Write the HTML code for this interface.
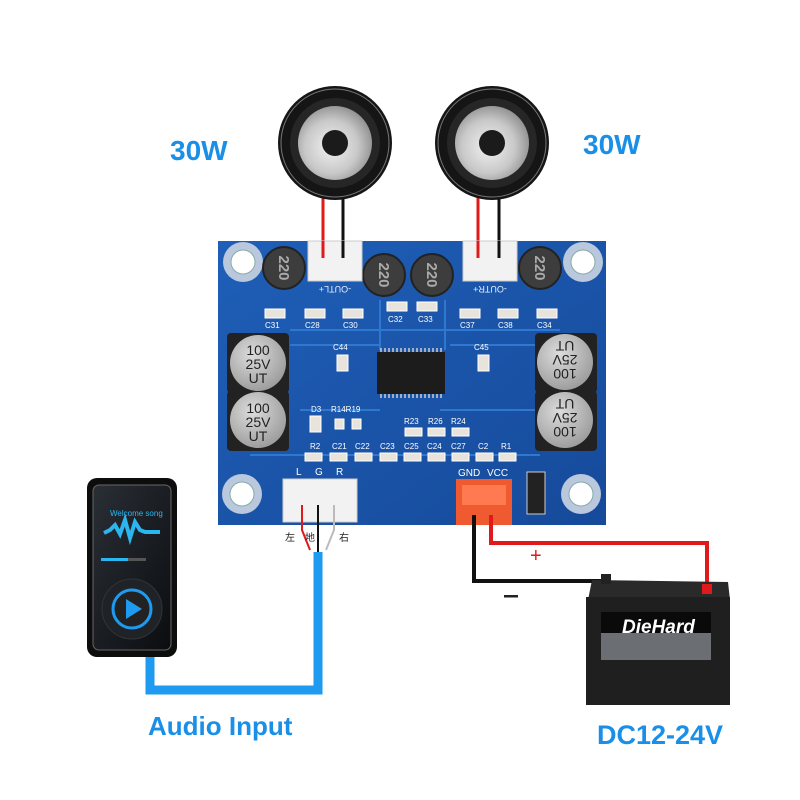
<!DOCTYPE html>
<html><head><meta charset="utf-8"><style>
html,body{margin:0;padding:0;background:#fff;}
svg{display:block;}
</style></head><body>
<svg width="800" height="800" viewBox="0 0 800 800" xmlns="http://www.w3.org/2000/svg" font-family="Liberation Sans, sans-serif">
<defs>
<radialGradient id="cone" cx="0.45" cy="0.55" r="0.6"><stop offset="0" stop-color="#f2f2f2"/><stop offset="0.6" stop-color="#c8c8c8"/><stop offset="1" stop-color="#8a8a8a"/></radialGradient>
<radialGradient id="cap" cx="0.4" cy="0.35" r="0.7"><stop offset="0" stop-color="#dcdcdc"/><stop offset="1" stop-color="#9a9a9a"/></radialGradient>
<linearGradient id="pcb" x1="0" y1="0" x2="1" y2="1"><stop offset="0" stop-color="#1f5fb8"/><stop offset="1" stop-color="#164a9a"/></linearGradient>
<linearGradient id="scr" x1="0" y1="0" x2="1" y2="1"><stop offset="0" stop-color="#2a2f36"/><stop offset="1" stop-color="#0b0d10"/></linearGradient>
</defs>

<!-- 30W labels -->
<text x="170" y="160" font-size="28" font-weight="bold" fill="#1a8fe8">30W</text>
<text x="583" y="154" font-size="28" font-weight="bold" fill="#1a8fe8">30W</text>

<!-- speaker wires -->
<line x1="323" y1="195" x2="323" y2="255" stroke="#e01a1a" stroke-width="3"/>
<line x1="343" y1="195" x2="343" y2="255" stroke="#111" stroke-width="3"/>
<line x1="478" y1="195" x2="478" y2="255" stroke="#e01a1a" stroke-width="3"/>
<line x1="499" y1="195" x2="499" y2="255" stroke="#111" stroke-width="3"/>

<!-- speakers -->
<g>
<circle cx="335" cy="143" r="57" fill="#151515"/>
<circle cx="335" cy="143" r="54" fill="none" stroke="#777" stroke-width="1"/>
<circle cx="335" cy="143" r="45" fill="#262626"/>
<circle cx="335" cy="143" r="37" fill="url(#cone)"/>
<circle cx="335" cy="143" r="13" fill="#1b1b1b"/>
</g>
<g>
<circle cx="492" cy="143" r="57" fill="#151515"/>
<circle cx="492" cy="143" r="54" fill="none" stroke="#777" stroke-width="1"/>
<circle cx="492" cy="143" r="45" fill="#262626"/>
<circle cx="492" cy="143" r="37" fill="url(#cone)"/>
<circle cx="492" cy="143" r="13" fill="#1b1b1b"/>
</g>

<!-- PCB -->
<rect x="218" y="241" width="388" height="284" fill="url(#pcb)"/>
<g fill="none" stroke="#2f78d0" stroke-width="2">
<path d="M290 330 H560 M290 345 H380 M450 345 H545 M300 410 H380 M440 410 H540 M250 455 H540 M380 300 V350 M445 300 V350"/>
</g>
<!-- mounting holes -->
<g>
<circle cx="243" cy="262" r="20" fill="#b9c8dc"/><circle cx="243" cy="262" r="12" fill="#fff" stroke="#8aa" stroke-width="1"/>
<circle cx="583" cy="262" r="20" fill="#b9c8dc"/><circle cx="583" cy="262" r="12" fill="#fff" stroke="#8aa" stroke-width="1"/>
<circle cx="242" cy="494" r="20" fill="#b9c8dc"/><circle cx="242" cy="494" r="12" fill="#fff" stroke="#8aa" stroke-width="1"/>
<circle cx="581" cy="494" r="20" fill="#b9c8dc"/><circle cx="581" cy="494" r="12" fill="#fff" stroke="#8aa" stroke-width="1"/>
</g>
<!-- inductors -->
<g fill="#3d3d3d" stroke="#222" stroke-width="2">
<circle cx="284" cy="268" r="21"/><circle cx="384" cy="275" r="21"/><circle cx="432" cy="275" r="21"/><circle cx="540" cy="268" r="21"/>
</g>
<g font-size="15" fill="#aaa" font-weight="bold">
<text x="284" y="273" text-anchor="middle" transform="rotate(90 284 268)">220</text>
<text x="384" y="280" text-anchor="middle" transform="rotate(90 384 275)">220</text>
<text x="432" y="280" text-anchor="middle" transform="rotate(90 432 275)">220</text>
<text x="540" y="273" text-anchor="middle" transform="rotate(90 540 268)">220</text>
</g>
<!-- top connectors -->
<rect x="308" y="241" width="54" height="40" fill="#f2f2f2" stroke="#ccc"/>
<rect x="463" y="241" width="54" height="40" fill="#f2f2f2" stroke="#ccc"/>
<line x1="323" y1="241" x2="323" y2="258" stroke="#e01a1a" stroke-width="3"/>
<line x1="343" y1="241" x2="343" y2="258" stroke="#111" stroke-width="3"/>
<line x1="478" y1="241" x2="478" y2="258" stroke="#e01a1a" stroke-width="3"/>
<line x1="499" y1="241" x2="499" y2="258" stroke="#111" stroke-width="3"/>
<g font-size="9" fill="#e8eef8">
<text x="335" y="292" text-anchor="middle" transform="rotate(180 335 289)">-OUTL+</text>
<text x="490" y="292" text-anchor="middle" transform="rotate(180 490 289)">-OUTR+</text>
</g>
<!-- small smd -->
<g fill="#e8e4dc" stroke="#fff" stroke-width="1">
<rect x="265" y="309" width="20" height="9"/><rect x="305" y="309" width="20" height="9"/><rect x="343" y="309" width="20" height="9"/>
<rect x="387" y="302" width="20" height="9"/><rect x="417" y="302" width="20" height="9"/>
<rect x="460" y="309" width="20" height="9"/><rect x="498" y="309" width="20" height="9"/><rect x="537" y="309" width="20" height="9"/>
<rect x="337" y="355" width="11" height="16"/><rect x="478" y="355" width="11" height="16"/>
<rect x="310" y="416" width="11" height="16"/><rect x="335" y="419" width="9" height="10"/><rect x="352" y="419" width="9" height="10"/>
<rect x="405" y="428" width="17" height="8"/><rect x="428" y="428" width="17" height="8"/><rect x="452" y="428" width="17" height="8"/>
<rect x="305" y="453" width="17" height="8"/><rect x="330" y="453" width="17" height="8"/><rect x="355" y="453" width="17" height="8"/><rect x="380" y="453" width="17" height="8"/><rect x="404" y="453" width="17" height="8"/><rect x="428" y="453" width="17" height="8"/><rect x="452" y="453" width="17" height="8"/><rect x="476" y="453" width="17" height="8"/><rect x="499" y="453" width="17" height="8"/>
</g>
<g font-size="8" fill="#fff">
<text x="265" y="328">C31</text><text x="305" y="328">C28</text><text x="343" y="328">C30</text><text x="388" y="322">C32</text><text x="418" y="322">C33</text><text x="460" y="328">C37</text><text x="498" y="328">C38</text><text x="537" y="328">C34</text>
<text x="333" y="350">C44</text><text x="474" y="350">C45</text>
<text x="311" y="412">D3</text><text x="331" y="412">R14R19</text>
<text x="404" y="424">R23</text><text x="428" y="424">R26</text><text x="451" y="424">R24</text>
<text x="310" y="449">R2</text><text x="332" y="449">C21</text><text x="355" y="449">C22</text><text x="380" y="449">C23</text><text x="404" y="449">C25</text><text x="427" y="449">C24</text><text x="451" y="449">C27</text><text x="478" y="449">C2</text><text x="501" y="449">R1</text>
</g>
<!-- electrolytic caps -->
<g>
<rect x="227" y="333" width="62" height="60" fill="#222" rx="4"/>
<circle cx="258" cy="363" r="28" fill="url(#cap)"/>
<rect x="227" y="391" width="62" height="60" fill="#222" rx="4"/>
<circle cx="258" cy="420" r="28" fill="url(#cap)"/>
<rect x="535" y="333" width="62" height="60" fill="#222" rx="4"/>
<circle cx="565" cy="362" r="28" fill="url(#cap)"/>
<rect x="535" y="391" width="62" height="60" fill="#222" rx="4"/>
<circle cx="565" cy="420" r="28" fill="url(#cap)"/>
</g>
<g font-size="14" fill="#222" text-anchor="middle">
<text x="258" y="355">100</text><text x="258" y="369">25V</text><text x="258" y="383">UT</text>
<text x="258" y="413">100</text><text x="258" y="427">25V</text><text x="258" y="441">UT</text>
<g transform="rotate(180 565 362)"><text x="565" y="355">100</text><text x="565" y="369">25V</text><text x="565" y="383">UT</text></g>
<g transform="rotate(180 565 420)"><text x="565" y="413">100</text><text x="565" y="427">25V</text><text x="565" y="441">UT</text></g>
</g>
<!-- chip -->
<rect x="377" y="352" width="68" height="42" fill="#1c1c1c"/>
<g stroke="#ccc" stroke-width="1.5">
<path d="M381 348v4M385 348v4M389 348v4M393 348v4M397 348v4M401 348v4M405 348v4M409 348v4M413 348v4M417 348v4M421 348v4M425 348v4M429 348v4M433 348v4M437 348v4M441 348v4"/>
<path d="M381 394v4M385 394v4M389 394v4M393 394v4M397 394v4M401 394v4M405 394v4M409 394v4M413 394v4M417 394v4M421 394v4M425 394v4M429 394v4M433 394v4M437 394v4M441 394v4"/>
</g>
<!-- D1 -->
<rect x="527" y="472" width="18" height="42" fill="#222" stroke="#ccc"/>
<!-- bottom connectors -->
<g font-size="10" fill="#fff"><text x="296" y="475">L</text><text x="315" y="475">G</text><text x="336" y="475">R</text><text x="458" y="476">GND</text><text x="487" y="476">VCC</text></g>
<rect x="283" y="479" width="74" height="43" fill="#f2f2f2" stroke="#ccc"/>
<rect x="456" y="479" width="56" height="46" fill="#f05a30"/>
<rect x="462" y="485" width="44" height="20" fill="#ff7a50"/>

<!-- audio wires -->
<path d="M302 505 V530 L310 550" stroke="#e01a1a" stroke-width="2" fill="none"/>
<path d="M318 505 V552" stroke="#111" stroke-width="2" fill="none"/>
<path d="M334 505 V530 L326 550" stroke="#bbb" stroke-width="2" fill="none"/>
<text x="285" y="541" font-size="10" fill="#222" font-family="Noto Sans CJK SC, sans-serif">左</text>
<text x="305" y="541" font-size="10" fill="#222" font-family="Noto Sans CJK SC, sans-serif">地</text>
<text x="339" y="541" font-size="10" fill="#222" font-family="Noto Sans CJK SC, sans-serif">右</text>
<path d="M318 552 V690 H150 V650" stroke="#1e9af0" stroke-width="9" fill="none"/>

<!-- phone -->
<rect x="87" y="478" width="90" height="179" rx="10" fill="#0d0d0d"/>
<rect x="93" y="485" width="78" height="165" rx="6" fill="url(#scr)" stroke="#666" stroke-width="1"/>
<text x="110" y="516" font-size="8" fill="#2bb6f0">Welcome song</text>
<path d="M104 533 L110 530 L115 525 L120 534 L125 520 L130 538 L135 522 L140 530 L145 532 L160 532" stroke="#2bb6f0" stroke-width="4" fill="none"/>
<rect x="101" y="558" width="27" height="3" fill="#2bb6f0"/><rect x="128" y="558" width="18" height="3" fill="#555"/>
<circle cx="132" cy="609" r="30" fill="#1f2328" stroke="#333"/>
<circle cx="132" cy="609" r="19" fill="#222" stroke="#1e9af0" stroke-width="3"/>
<path d="M126 599 L142 609 L126 619 Z" fill="#1e9af0"/>

<!-- power wires -->
<path d="M491 515 V543 H707 V592" stroke="#e01a1a" stroke-width="4" fill="none"/>
<path d="M474 515 V581 H604" stroke="#111" stroke-width="4" fill="none"/>
<text x="530" y="562" font-size="20" fill="#e01a1a">+</text>
<rect x="504" y="595" width="14" height="2.5" fill="#222"/>

<!-- battery -->
<path d="M592 580 L728 582 L730 600 L588 600 Z" fill="#2a2a2a"/>
<rect x="601" y="574" width="10" height="10" fill="#222"/>
<rect x="702" y="584" width="10" height="10" fill="#e01a1a"/>
<rect x="586" y="597" width="144" height="108" fill="#1f1f1f"/>
<rect x="601" y="612" width="110" height="48" fill="#0a0a0a"/>
<path d="M601 633 L711 633 L711 660 L601 660 Z" fill="#6b6f74"/>
<text x="622" y="633" font-size="19" font-weight="bold" font-style="italic" fill="#fff">DieHard</text>

<!-- labels -->
<text x="148" y="735" font-size="26" font-weight="bold" fill="#1a8fe8">Audio Input</text>
<text x="597" y="744" font-size="27" font-weight="bold" fill="#1a8fe8">DC12-24V</text>
</svg>
</body></html>
